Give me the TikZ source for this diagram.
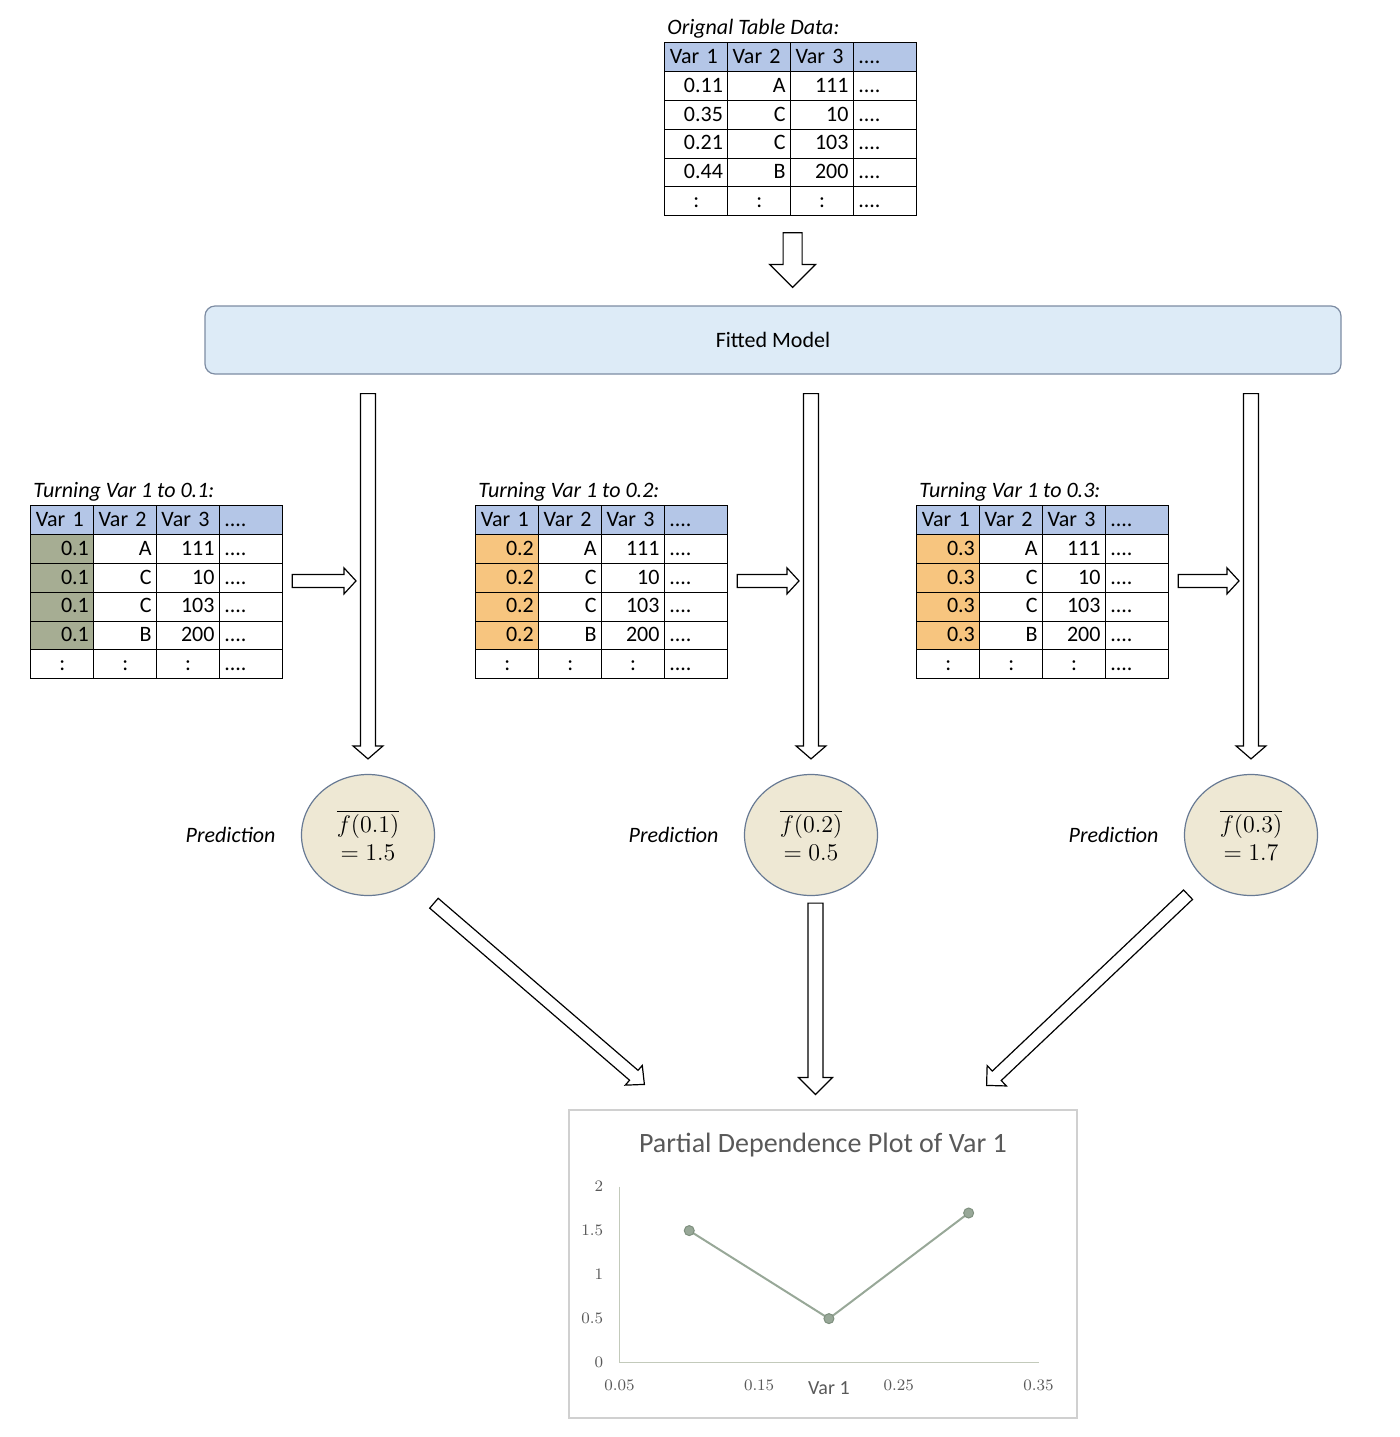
\documentclass[tikz,border=0pt]{standalone}
\usepackage{fontspec}
\newfontfamily\calibri{Carlito}
\usetikzlibrary{positioning,calc,matrix,shapes.geometric}
\definecolor{headblue}{HTML}{B4C6E7}
\definecolor{modelblue}{HTML}{DDEBF7}
\definecolor{modelline}{HTML}{7D8CA3}
\definecolor{olivegray}{HTML}{A6AD93}
\definecolor{softorange}{HTML}{F7C57F}
\definecolor{predfill}{HTML}{EEE8D4}
\definecolor{predline}{HTML}{687A94}
\definecolor{chartgray}{HTML}{595959}
\definecolor{chartline}{HTML}{98A898}
\definecolor{chartdot}{HTML}{7F907F}
\definecolor{chartaxis}{HTML}{C3CABB}
\definecolor{chartframe}{HTML}{D0D0D0}

% fat block arrow: from, to, shaft half width, head half width, head length
\newcommand{\blockarrow}[5]{%
	\coordinate (ba-s) at (#1);
	\coordinate (ba-e) at (#2);
	\coordinate (ba-h) at ($(ba-e)!#5!(ba-s)$);
	\draw[fatarrow] ($(ba-s)!#3!90:(ba-e)$) -- ($(ba-h)!#3!90:(ba-e)$) -- ($(ba-h)!#4!90:(ba-e)$) -- (ba-e)
		-- ($(ba-h)!#4!-90:(ba-e)$) -- ($(ba-h)!#3!-90:(ba-e)$) -- ($(ba-s)!#3!-90:(ba-e)$) -- cycle;
}

\begin{document}
\begin{tikzpicture}[x=0.5pt,y=-0.5pt,
		datatab/.style={matrix of nodes, inner sep=0pt, ampersand replacement=\&,
			column sep=-0.6pt, row sep=-0.6pt,
			nodes={draw, line width=0.5pt, anchor=center, text width=26.5pt, text height=8pt, text depth=2pt,
				minimum height=14.5pt, inner xsep=2.5pt, inner ysep=0pt,
				align=right, font=\calibri\fontsize{11}{13}\selectfont},
			column 4/.style={nodes={align=left}},
			row 1/.style={nodes={fill=headblue, align=left}},
			row 6/.style={nodes={fill=white, align=center}},
			row 6 column 4/.style={nodes={align=left}}},
		captext/.style={font=\calibri\itshape\fontsize{11}{13}\selectfont, inner sep=1.5pt},
		modelbox/.style={draw=modelline, fill=modelblue, line width=0.6pt, rounded corners=5pt,
			minimum width=568pt, minimum height=34pt, font=\calibri\fontsize{11}{13}\selectfont},
		predcirc/.style={ellipse, draw=predline, fill=predfill, line width=0.6pt, minimum width=66.5pt,
			minimum height=60.5pt, inner sep=0pt, align=center, font=\fontsize{12.5}{14}\selectfont},
		predlab/.style={font=\calibri\itshape\fontsize{11}{13}\selectfont, inner sep=0pt},
		fatarrow/.style={draw=black, fill=white, line width=0.6pt, line join=miter},
		ticklab/.style={font=\fontsize{8}{9}\selectfont, text=chartgray, inner sep=0pt}]
	\useasboundingbox (0,0) rectangle (1400,1437);

	\matrix[datatab, anchor=north west] (tab0) at (664,42) {
		Var 1 \& Var 2 \& Var 3 \& .... \\
		0.11 \& A \& 111 \& .... \\
		0.35 \& C \& 10 \& .... \\
		0.21 \& C \& 103 \& .... \\
		0.44 \& B \& 200 \& .... \\
		: \& : \& : \& .... \\
	};
	\node[captext, anchor=south west] (cap0) at (tab0.north west) {Orignal Table Data:};
	\node[modelbox] (model) at (773,340) {Fitted Model};
	\blockarrow{$(tab0.south)+(2,16)$}{$(model.north -| tab0.south)+(2,-18)$}{4.75pt}{11.5pt}{11.5pt}

	\foreach \i/\v/\x/\cx/\col/\pv in {1/0.1/30/368/olivegray/1.5, 2/0.2/475/811/softorange/0.5, 3/0.3/916/1251/softorange/1.7}{
		\matrix[datatab, column 1/.style={nodes={fill=\col}}, anchor=north west] (tab\i) at (\x,505) {
			Var 1 \& Var 2 \& Var 3 \& .... \\
			\v \& A \& 111 \& .... \\
			\v \& C \& 10 \& .... \\
			\v \& C \& 103 \& .... \\
			\v \& B \& 200 \& .... \\
			: \& : \& : \& .... \\
		};
		\node[captext, anchor=south west] (cap\i) at (tab\i.north west) {Turning Var 1 to \v:};
		\node[predcirc] (pred\i) at (\cx,835) {$\overline{f(\v)}$\\$=\pv$};
		\node[predlab, left=12.5pt of pred\i] (lab\i) {Prediction};
		\blockarrow{$(model.south -| pred\i)+(0,19)$}{$(pred\i.north)+(0,-15)$}{3.75pt}{7.5pt}{6.5pt}
		\blockarrow{$(tab\i.east)+(9,-11.5)$}{$(pred\i.center |- tab\i.east)+(-12,-11.5)$}{3.25pt}{6.5pt}{6pt}
	}

	% chart
	\node[draw=chartframe, line width=0.6pt, minimum width=254pt, minimum height=154pt] (pdp) at (823,1264) {};
	\node[font=\calibri\fontsize{14}{16}\selectfont, text=chartgray] (pdptitle) at ($(pdp.north)+(0,36)$) {Partial Dependence Plot of Var 1};
	\blockarrow{$(pred1.south east)+(18.5,25)$}{$(pdp.north west)+(76,-25)$}{3.25pt}{6.5pt}{7pt}
	\blockarrow{$(pred2.south)+(4.5,7)$}{$(pred2.south |- pdp.north)+(4.5,-15)$}{3.75pt}{8.5pt}{8.5pt}
	\blockarrow{$(pred3.south west)+(-15.5,16.5)$}{$(pdp.north east)+(-91,-24)$}{3.25pt}{7pt}{7pt}
	\coordinate (org) at ($(pdp.south west)+(51,-56)$);
	\begin{scope}[shift={(org)}, x=698.5pt, y=44pt]
		\draw[chartaxis, line width=0.6pt] (0,2) -- (0,0) -- (0.3,0);
		\foreach \t in {0,0.5,1,1.5,2}
			\node[ticklab, anchor=east, xshift=-8pt] at (0,\t) {\t};
		\foreach \t/\lab in {0/0.05, 0.1/0.15, 0.2/0.25, 0.3/0.35}
			\node[ticklab, yshift=-11.5pt] at (\t,0) {\lab};
		\node[font=\calibri\fontsize{10}{12}\selectfont, text=chartgray, yshift=-13pt] (xtitle) at (0.15,0) {Var 1};
		\draw[chartline, line width=1pt] (0.05,1.5) coordinate (p1) -- (0.15,0.5) coordinate (p2) -- (0.25,1.7) coordinate (p3);
		\foreach \p in {p1,p2,p3}
			\filldraw[fill=chartline, draw=chartdot, line width=0.5pt] (\p) circle (2.5pt);
	\end{scope}
\end{tikzpicture}
\end{document}
